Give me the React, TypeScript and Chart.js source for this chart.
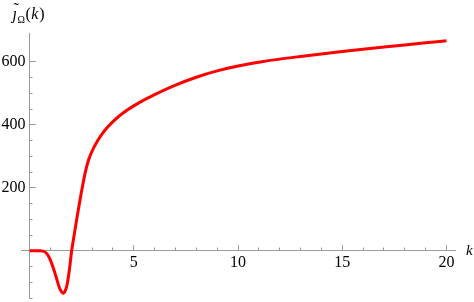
import React, { useEffect, useRef } from 'react';
import { Chart, registerables } from 'chart.js';

Chart.register(...registerables);

// ---- data ----
const kValues = [0, 0.5, 0.65, 0.8, 0.95, 1.06, 1.2, 1.3, 1.4, 1.5, 1.62, 1.72, 1.8, 1.91, 2.02, 2.18, 2.3, 2.42, 2.66, 2.8, 2.9, 3.0, 3.25, 3.5, 3.75, 4, 4.5, 5, 5.5, 6, 7, 8, 9, 10, 11, 12, 13, 14, 15, 16, 17, 18, 19, 20];
const jValues = [0, 0, -1, -7, -22, -40, -67, -89, -111, -127, -135, -126, -108, -61, 0, 66, 115, 161, 245, 282, 301, 317, 348, 373, 393, 410.5, 438.5, 460.5, 479.5, 496.5, 526.5, 551.5, 571.5, 587, 599, 609, 617.5, 625.5, 633.2, 640.5, 647.5, 654.2, 660.7, 667];

const xMinorTicks = [1, 2, 3, 4, 6, 7, 8, 9, 11, 12, 13, 14, 16, 17, 18, 19];
const xMajorTicks = [5, 10, 15, 20];
const xTickLabels = ['5', '10', '15', '20'];
const yMinorTicks = [-150, -100, -50, 50, 100, 150, 250, 300, 350, 450, 500, 550];
const yMajorTicks = [200, 400, 600];
const yTickLabels = ['200', '400', '600'];
const xRange = [-0.41, 20.41];
const yRange = [-150, 692];

const xTitle = 'k';
const yTitleMain = '\u0237';
const yTitleAccent = '\u02DC';
const yTitleSub = '\u03A9';
const yTitleArg = 'k';

const AXIS_COLOR = '#9a9a9a';
const FONT_FAMILY = '"Liberation Serif", "DejaVu Serif", serif';

function noPad(s: any) {
  s.paddingLeft = 0;
  s.paddingRight = 0;
  s.paddingTop = 0;
  s.paddingBottom = 0;
}

function tickScale(axis: 'x' | 'y', values: number[], len: number, border: boolean) {
  const range = axis === 'x' ? xRange : yRange;
  return {
    type: 'linear',
    axis,
    position: axis === 'x' ? { y: 0 } : { x: 0 },
    min: range[0],
    max: range[1],
    afterBuildTicks: (s: any) => {
      s.ticks = values.map((v) => ({ value: v }));
    },
    afterFit: noPad,
    border: { display: border, color: AXIS_COLOR, width: 1 },
    grid: {
      display: true,
      drawOnChartArea: false,
      drawTicks: true,
      tickLength: len,
      tickColor: AXIS_COLOR,
      tickWidth: 1,
    },
    ticks: { display: false, autoSkip: false },
  };
}

function labelScale(axis: 'x' | 'y', values: number[], labels: string[], pos: any, padding: number) {
  const range = axis === 'x' ? xRange : yRange;
  return {
    type: 'linear',
    axis,
    position: pos,
    min: range[0],
    max: range[1],
    afterBuildTicks: (s: any) => {
      s.ticks = values.map((v) => ({ value: v }));
    },
    afterFit: noPad,
    border: { display: false },
    grid: { display: false, drawTicks: false },
    ticks: {
      display: true,
      autoSkip: false,
      maxRotation: 0,
      padding,
      color: '#000',
      font: { family: FONT_FAMILY, size: 16 },
      callback: (v: any) => {
        const i = values.indexOf(Number(v));
        return i >= 0 ? labels[i] : '';
      },
    },
  };
}

const titlePlugin = {
  id: 'axisTitles',
  afterDraw(chart: any) {
    const ctx = chart.ctx;
    const xs = chart.scales.x;
    const ys = chart.scales.y;
    const axisX = xs.getPixelForValue(0);
    const axisY = ys.getPixelForValue(0);
    ctx.save();
    ctx.fillStyle = '#000';
    ctx.textBaseline = 'alphabetic';
    ctx.textAlign = 'left';
    // x title
    ctx.font = `italic 15px ${FONT_FAMILY}`;
    ctx.fillText(xTitle, xs.right + 11, axisY + 4);
    // y title
    const base = ys.top - 14;
    let x = axisX - 17;
    ctx.font = `italic 16px ${FONT_FAMILY}`;
    ctx.fillText(yTitleMain, x, base);
    const jw = ctx.measureText(yTitleMain).width;
    ctx.font = `17px ${FONT_FAMILY}`;
    ctx.fillText(yTitleAccent, x + 1, base - 5);
    x += jw + 0.5;
    ctx.font = `10px ${FONT_FAMILY}`;
    ctx.fillText(yTitleSub, x, base + 3.5);
    x += ctx.measureText(yTitleSub).width + 0.5;
    ctx.font = `16px ${FONT_FAMILY}`;
    ctx.fillText('(', x, base);
    x += ctx.measureText('(').width + 0.5;
    ctx.font = `italic 16px ${FONT_FAMILY}`;
    ctx.fillText(yTitleArg, x, base);
    x += ctx.measureText(yTitleArg).width + 1;
    ctx.font = `16px ${FONT_FAMILY}`;
    ctx.fillText(')', x, base);
    ctx.restore();
  },
};

export default function App() {
  const canvasRef = useRef<HTMLCanvasElement | null>(null);

  useEffect(() => {
    const canvas = canvasRef.current;
    if (!canvas) return;
    const points = kValues.map((k, i) => ({ x: k, y: jValues[i] }));
    const chart = new Chart(canvas, {
      type: 'line',
      data: {
        datasets: [
          {
            data: points,
            borderColor: '#ff0000',
            borderWidth: 3,
            pointRadius: 0,
            fill: false,
            cubicInterpolationMode: 'monotone',
            xAxisID: 'x',
            yAxisID: 'y',
          },
        ],
      },
      options: {
        animation: false,
        responsive: false,
        devicePixelRatio: 1,
        layout: { padding: { left: 21, right: 19, top: 33, bottom: 4 } },
        plugins: { legend: { display: false }, tooltip: { enabled: false } },
        scales: {
          x: tickScale('x', xMinorTicks, -3.5, true),
          xMaj: tickScale('x', xMajorTicks, -6, false),
          xLab: labelScale('x', xMajorTicks, xTickLabels, { y: 0 }, 2),
          y: tickScale('y', yMinorTicks, -3.5, true),
          yMaj: tickScale('y', yMajorTicks, -6, false),
          yLab: labelScale('y', yMajorTicks, yTickLabels, { x: -0.2 }, 0),
        } as any,
      },
      plugins: [titlePlugin],
    } as any);
    return () => chart.destroy();
  }, []);

  return (
    <div style={{ position: 'absolute', left: 0, top: 0, width: 474, height: 302, background: '#fff' }}>
      <canvas ref={canvasRef} width={474} height={302} style={{ display: 'block' }} />
    </div>
  );
}
